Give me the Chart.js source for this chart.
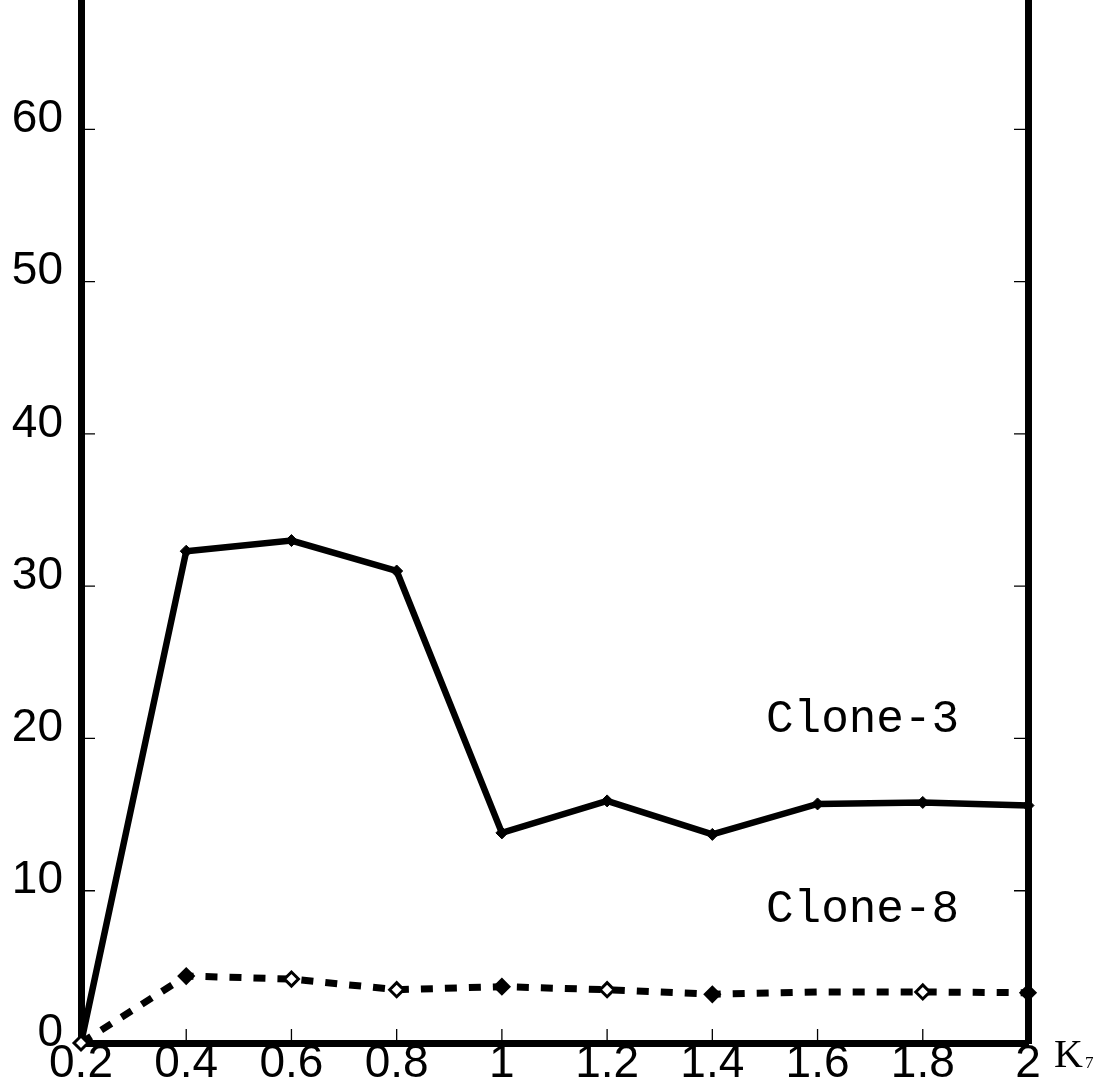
<!DOCTYPE html>
<html>
<head>
<meta charset="utf-8">
<script src="https://cdn.jsdelivr.net/npm/chart.js@4.4.1/dist/chart.umd.min.js"></script>
<style>
html, body { margin: 0; padding: 0; background: #fff; overflow: hidden; }
</style>
</head>
<body>
<canvas id="chart" width="1103" height="1088"></canvas>
<script>
// K7 values along the x axis
var kLabels = ['0.2', '0.4', '0.6', '0.8', '1', '1.2', '1.4', '1.6', '1.8', '2'];
// series
var clone3 = [0, 32.3, 33.0, 31.0, 13.8, 15.9, 13.7, 15.7, 15.8, 15.6];
var clone8 = [0, 4.4, 4.2, 3.5, 3.7, 3.5, 3.2, 3.35, 3.35, 3.3];
// clone-8 markers: 'o' hollow, 'f' filled, '' none
var clone8Marks = ['o', 'f', 'o', 'o', 'f', 'o', 'f', '', 'o', 'f'];
var yTicks = [0, 10, 20, 30, 40, 50, 60];

var sans = '"Liberation Sans", Arial, sans-serif';
var mono = '"Courier New", "Liberation Mono", monospace';
var serif = '"Liberation Serif", "Times New Roman", serif';

function noPad(scale) {
    scale.paddingTop = 0;
    scale.paddingBottom = 0;
    scale.paddingLeft = 0;
    scale.paddingRight = 0;
}

// inward tick marks + text annotations
var decor = {
    id: 'decor',
    beforeDatasetsDraw: function(chart) {
        var ctx = chart.ctx, a = chart.chartArea;
        var x = chart.scales.x, y = chart.scales.y;
        ctx.save();
        ctx.strokeStyle = '#000';
        ctx.lineWidth = 1.3;
        ctx.beginPath();
        yTicks.forEach(function(v) {
            if (v === 0) return;
            var py = y.getPixelForValue(v);
            ctx.moveTo(a.left, py); ctx.lineTo(a.left + 14, py);
            ctx.moveTo(a.right, py); ctx.lineTo(a.right - 14, py);
        });
        kLabels.forEach(function(l, i) {
            if (i === 0 || i === kLabels.length - 1) return;
            var px = x.getPixelForValue(i);
            ctx.moveTo(px, a.bottom); ctx.lineTo(px, a.bottom - 14);
        });
        ctx.stroke();
        ctx.restore();
    },
    afterDraw: function(chart) {
        var ctx = chart.ctx;
        var x = chart.scales.x, y = chart.scales.y;
        ctx.save();
        ctx.fillStyle = '#000';
        ctx.textBaseline = 'alphabetic';
        ctx.font = '46px ' + mono;
        var tx = x.getPixelForValue(6.5);
        ctx.fillText('Clone-3', tx + 1, y.getPixelForValue(20.4));
        ctx.fillText('Clone-8', tx + 1, y.getPixelForValue(7.95));
        // axis name K7
        ctx.font = '40px ' + serif;
        ctx.fillText('K', 1054, 1067);
        ctx.font = '17px ' + serif;
        ctx.fillText('7', 1085, 1068);
        ctx.restore();
    }
};

var ctx = document.getElementById('chart').getContext('2d');
var chart = new Chart(ctx, {
    type: 'line',
    data: {
        labels: kLabels,
        datasets: [
            {
                label: 'Clone-8',
                data: clone8,
                borderColor: '#000',
                borderWidth: 7,
                borderDash: [12, 12],
                borderCapStyle: 'butt',
                pointStyle: 'rectRot',
                pointRadius: clone8Marks.map(function(m) { return m ? 7 : 0; }),
                pointBackgroundColor: clone8Marks.map(function(m) { return m === 'f' ? '#000' : '#fff'; }),
                pointBorderColor: '#000',
                pointBorderWidth: 3,
                fill: false,
                tension: 0,
                clip: false
            },
            {
                label: 'Clone-3',
                data: clone3,
                borderColor: '#000',
                borderWidth: 6.5,
                pointStyle: 'rectRot',
                pointRadius: 6,
                pointBackgroundColor: '#000',
                pointBorderColor: '#000',
                pointBorderWidth: 1,
                fill: false,
                tension: 0,
                clip: false
            }
        ]
    },
    options: {
        responsive: false,
        animation: false,
        devicePixelRatio: 1,
        layout: { autoPadding: false, padding: 0 },
        plugins: {
            legend: { display: false },
            tooltip: { enabled: false }
        },
        scales: {
            x: {
                type: 'category',
                offset: false,
                grid: { display: true, drawOnChartArea: false, drawTicks: false, color: '#000' },
                border: { display: true, width: 7, color: '#000' },
                ticks: {
                    color: '#000',
                    font: { family: sans, size: 46 },
                    padding: -6,
                    maxRotation: 0,
                    autoSkip: false
                },
                afterFit: function(scale) { scale.height = 45; noPad(scale); }
            },
            y: {
                type: 'linear',
                position: 'left',
                min: 0,
                max: 68.5,
                afterBuildTicks: function(scale) {
                    scale.ticks = yTicks.map(function(v) { return { value: v }; });
                },
                grid: { display: true, drawOnChartArea: false, drawTicks: false, color: '#000' },
                border: { display: true, width: 7, color: '#000' },
                ticks: {
                    color: '#000',
                    font: { family: sans, size: 46 },
                    padding: 18,
                    labelOffset: -10
                },
                afterFit: function(scale) { scale.width = 81; noPad(scale); }
            },
            y2: {
                type: 'linear',
                position: 'right',
                min: 0,
                max: 68.5,
                grid: { display: true, drawOnChartArea: false, drawTicks: false, color: '#000' },
                border: { display: true, width: 7, color: '#000' },
                ticks: { display: false },
                afterFit: function(scale) { scale.width = 75; noPad(scale); }
            }
        }
    },
    plugins: [decor]
});
</script>
</body>
</html>
